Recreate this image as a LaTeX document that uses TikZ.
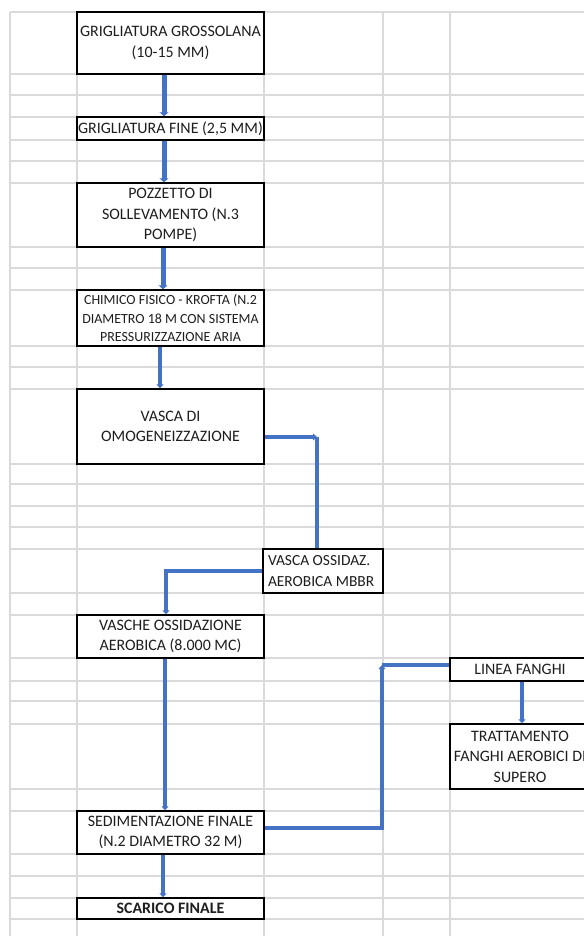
\documentclass[tikz,border=0pt]{standalone}
\usepackage{fontspec}
\setmainfont{Carlito}
\usetikzlibrary{arrows.meta,calc}
\definecolor{gridc}{HTML}{DADADA}
\definecolor{flow}{HTML}{4472C4}
\definecolor{txt}{HTML}{1E1E1E}
\begin{document}
\begin{tikzpicture}[x=1bp,y=-1bp,
  box/.style={draw=black,line width=1.5bp,fill=white,inner sep=0pt,align=center,text=txt,
    font=\fontsize{16}{20.5}\selectfont},
  thick flow/.style={draw=flow,line width=5bp,-{Triangle[length=4bp,width=9bp]}},
  mid flow/.style={draw=flow,line width=3.5bp,-{Triangle[length=4bp,width=7bp]}},
  plain flow/.style={draw=flow,line width=3.5bp},
  grid line/.style={draw=gridc,line width=1.6bp}]
\clip (0,0) rectangle (584,936);
\fill[white] (0,0) rectangle (584,936);
% spreadsheet grid
\foreach \gx in {10,77,264,383,450} \draw[grid line] (\gx,12) -- (\gx,940);
\foreach \gy in {12,74,95,117,140,161,183,247,268,290,346,367,389,464,484,506,527,549,593,615,658,681,701,724,789,811,854,876,898,919}
  \draw[grid line] (10,\gy) -- (590,\gy);
% boxes
\node[box,minimum width=187bp,minimum height=62bp] (b1) at (170.5,43) {GRIGLIATURA GROSSOLANA\\(10-15 MM)};
\node[box,minimum width=187bp,minimum height=23bp] (b2) at (170.5,128.5) {GRIGLIATURA FINE (2,5 MM)};
\node[box,minimum width=187bp,minimum height=64bp] (b3) at (170.5,215) {POZZETTO DI\\SOLLEVAMENTO (N.3\\POMPE)};
\node[box,minimum width=187bp,minimum height=56bp,font=\fontsize{14}{18.3}\selectfont] (b4) at (170.5,318) {CHIMICO FISICO - KROFTA (N.2\\DIAMETRO 18 M CON SISTEMA\\PRESSURIZZAZIONE ARIA};
\node[box,minimum width=187bp,minimum height=75bp] (b5) at (170.5,426.5) {VASCA DI\\OMOGENEIZZAZIONE};
\node[box,minimum width=120bp,minimum height=44bp,align=flush left,text width=110bp,inner xsep=5bp,
  font=\fontsize{15.5}{20.5}\selectfont] (b6) at (323,571) {\mbox{VASCA OSSIDAZ.}\\\mbox{AEROBICA MBBR}};
\node[box,minimum width=187bp,minimum height=43bp] (b7) at (170.5,636.5) {VASCHE OSSIDAZIONE\\AEROBICA (8.000 MC)};
\node[box,minimum width=187bp,minimum height=43bp] (b8) at (170.5,832.5) {SEDIMENTAZIONE FINALE\\(N.2 DIAMETRO 32 M)};
\node[box,minimum width=187bp,minimum height=21bp,font=\fontsize{16}{20.5}\selectfont\bfseries] (b9) at (170.5,908.5) {SCARICO FINALE};
\node[box,minimum width=140bp,minimum height=23bp] (b10) at (520,669.5) {LINEA FANGHI};
\node[box,minimum width=140bp,minimum height=65bp] (b11) at (520,756.5) {TRATTAMENTO\\FANGHI AEROBICI DI\\SUPERO};
% reference coordinates
\coordinate (x164) at (164,0);
\coordinate (x163) at (163,0);
\coordinate (x160) at (160,0);
\coordinate (x165) at (165,0);
\coordinate (x522) at (522,0);
\coordinate (c5) at (317,437);
\coordinate (c6) at (166,571);
\coordinate (c8) at (382,828);
\coordinate (c9) at (382,665);
% connectors
\draw[thick flow] (b1.south -| x164) -- (b2.north -| x164);
\draw[thick flow] (b2.south -| x164) -- (b3.north -| x164);
\draw[thick flow] (b3.south -| x163) -- (b4.north -| x163);
\draw[mid flow] (b4.south -| x160) -- (b5.north -| x160);
\draw[mid flow] (b5.east |- c5) -- (c5);
\draw[plain flow] (c5) -- (b6.north -| c5);
\draw[mid flow] (b6.west |- c6) -- (c6) -- (b7.north -| c6);
\draw[mid flow] (b7.south -| x165) -- (b8.north -| x165);
\draw[mid flow] (b8.south -| x163) -- (b9.north -| x163);
\draw[mid flow] (b8.east |- c8) -- (c8) -- (c9);
\draw[plain flow] (c9) -- (b10.west |- c9);
\draw[mid flow] (b10.south -| x522) -- (b11.north -| x522);
\end{tikzpicture}
\end{document}
